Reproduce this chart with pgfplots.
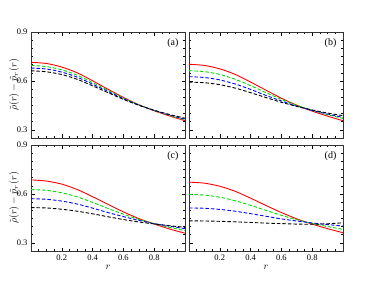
\documentclass[border=0pt]{standalone}
\usepackage{fontspec}
\setmainfont{Liberation Serif}
\usepackage{pgfplots}
\pgfplotsset{compat=1.18}
\definecolor{mgreen}{RGB}{0,220,0}
\pgfplotsset{
  panel/.style={
    width=154pt, height=106pt, scale only axis,
    anchor=south west,
    xmin=0, xmax=1, ymin=0.25, ymax=0.9,
    xtick={0.2,0.4,0.6,0.8}, ytick={0.3,0.6,0.9},
    minor xtick={0.05,0.1,...,0.95},
    minor ytick={0.25,0.3,...,0.9},
    tick align=inside,
    major tick length=3.5pt, minor tick length=2pt,
    tick style={black, line width=0.5pt},
    axis line style={line width=0.7pt, black!80},
    tick label style={font=\fontsize{8.5}{10}\selectfont},
    /pgf/number format/assume math mode=true,
    /pgf/number format/fixed, /pgf/number format/precision=1,
    /pgf/number format/fixed zerofill,
    every axis plot/.append style={line width=0.9pt, smooth, no markers},
    clip=true,
  },
  rc/.style={red, solid},
  gc/.style={mgreen, dash pattern=on 3.5pt off 2pt},
  bc/.style={blue, dash pattern=on 3.5pt off 2pt},
  kc/.style={black, dash pattern=on 3.5pt off 2pt},
  ylab/.style={ylabel={$\tilde{\rho}(r)-\tilde{p}_r(r)$},
    ylabel style={at={(axis description cs:-0.11,0.5)}, anchor=center, font=\fontsize{10}{12}\selectfont}},
}
\begin{document}
\begin{tikzpicture}[x=1pt,y=1pt]
\path[use as bounding box] (0,0) rectangle (375,284);
% (a)
\begin{axis}[panel, at={(31pt,146pt)}, xticklabels={}, ylab]
\addplot[rc] coordinates {(0,0.714)(0.1,0.707)(0.2,0.685)(0.3,0.650)(0.4,0.601)(0.5,0.549)(0.6,0.499)(0.7,0.454)(0.8,0.417)(0.9,0.385)(1,0.356)};
\addplot[gc] coordinates {(0,0.695)(0.1,0.688)(0.2,0.668)(0.3,0.635)(0.4,0.590)(0.5,0.542)(0.6,0.495)(0.7,0.454)(0.8,0.419)(0.9,0.389)(1,0.362)};
\addplot[bc] coordinates {(0,0.679)(0.1,0.673)(0.2,0.654)(0.3,0.623)(0.4,0.580)(0.5,0.535)(0.6,0.491)(0.7,0.452)(0.8,0.419)(0.9,0.391)(1,0.366)};
\addplot[kc] coordinates {(0,0.662)(0.1,0.656)(0.2,0.639)(0.3,0.610)(0.4,0.570)(0.5,0.528)(0.6,0.487)(0.7,0.451)(0.8,0.420)(0.9,0.394)(1,0.371)};
\node[anchor=north east, font=\fontsize{10}{12}\selectfont] at (rel axis cs:0.98,0.97) {(a)};
\end{axis}
% (b)
\begin{axis}[panel, at={(189pt,146pt)}, xticklabels={}, yticklabels={}]
\addplot[rc] coordinates {(0,0.702)(0.1,0.695)(0.2,0.674)(0.3,0.640)(0.4,0.593)(0.5,0.543)(0.6,0.494)(0.7,0.451)(0.8,0.415)(0.9,0.384)(1,0.356)};
\addplot[gc] coordinates {(0,0.663)(0.1,0.657)(0.2,0.640)(0.3,0.610)(0.4,0.571)(0.5,0.528)(0.6,0.487)(0.7,0.451)(0.8,0.420)(0.9,0.393)(1,0.370)};
\addplot[bc] coordinates {(0,0.626)(0.1,0.621)(0.2,0.606)(0.3,0.581)(0.4,0.548)(0.5,0.511)(0.6,0.477)(0.7,0.445)(0.8,0.419)(0.9,0.397)(1,0.377)};
\addplot[kc] coordinates {(0,0.593)(0.1,0.589)(0.2,0.577)(0.3,0.556)(0.4,0.528)(0.5,0.498)(0.6,0.469)(0.7,0.444)(0.8,0.422)(0.9,0.403)(1,0.387)};
\node[anchor=north east, font=\fontsize{10}{12}\selectfont] at (rel axis cs:0.98,0.97) {(b)};
\end{axis}
% (c)
\begin{axis}[panel, at={(31pt,33pt)}, ylab, xlabel={$r$}, xlabel style={font=\fontsize{10}{12}\selectfont, yshift=2pt}]
\addplot[rc] coordinates {(0,0.686)(0.1,0.679)(0.2,0.660)(0.3,0.627)(0.4,0.583)(0.5,0.536)(0.6,0.490)(0.7,0.449)(0.8,0.415)(0.9,0.385)(1,0.359)};
\addplot[gc] coordinates {(0,0.627)(0.1,0.622)(0.2,0.607)(0.3,0.582)(0.4,0.548)(0.5,0.511)(0.6,0.476)(0.7,0.444)(0.8,0.418)(0.9,0.395)(1,0.375)};
\addplot[bc] coordinates {(0,0.571)(0.1,0.567)(0.2,0.556)(0.3,0.538)(0.4,0.513)(0.5,0.486)(0.6,0.461)(0.7,0.438)(0.8,0.418)(0.9,0.402)(1,0.387)};
\addplot[kc] coordinates {(0,0.516)(0.1,0.514)(0.2,0.506)(0.3,0.494)(0.4,0.478)(0.5,0.460)(0.6,0.443)(0.7,0.428)(0.8,0.416)(0.9,0.405)(1,0.395)};
\node[anchor=north east, font=\fontsize{10}{12}\selectfont] at (rel axis cs:0.98,0.97) {(c)};
\end{axis}
% (d)
\begin{axis}[panel, at={(189pt,33pt)}, yticklabels={}, xlabel={$r$}, xlabel style={font=\fontsize{10}{12}\selectfont, yshift=2pt}]
\addplot[rc] coordinates {(0,0.672)(0.1,0.666)(0.2,0.647)(0.3,0.616)(0.4,0.574)(0.5,0.529)(0.6,0.486)(0.7,0.447)(0.8,0.415)(0.9,0.387)(1,0.362)};
\addplot[gc] coordinates {(0,0.597)(0.1,0.593)(0.2,0.580)(0.3,0.558)(0.4,0.530)(0.5,0.499)(0.6,0.469)(0.7,0.442)(0.8,0.419)(0.9,0.400)(1,0.383)};
\addplot[bc] coordinates {(0,0.514)(0.1,0.512)(0.2,0.505)(0.3,0.494)(0.4,0.479)(0.5,0.463)(0.6,0.447)(0.7,0.434)(0.8,0.422)(0.9,0.412)(1,0.403)};
\addplot[kc] coordinates {(0,0.435)(0.1,0.434)(0.2,0.432)(0.3,0.429)(0.4,0.425)(0.5,0.421)(0.6,0.418)(0.7,0.415)(0.8,0.414)(0.9,0.417)(1,0.423)};
\node[anchor=north east, font=\fontsize{10}{12}\selectfont] at (rel axis cs:0.98,0.97) {(d)};
\end{axis}
\end{tikzpicture}
\end{document}
